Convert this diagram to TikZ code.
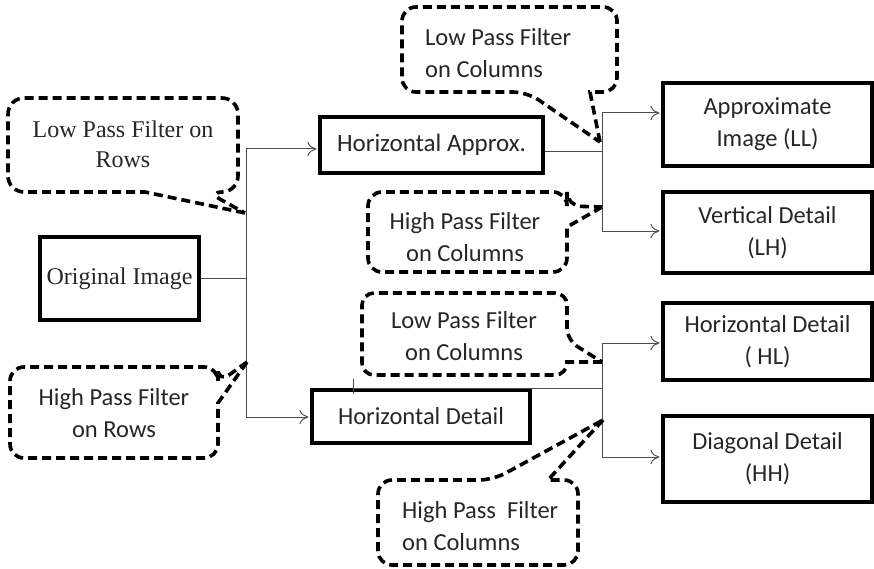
\documentclass[tikz,border=0pt]{standalone}
\usepackage{fontspec}
\setmainfont{Carlito}
\newfontfamily\romanfont{Liberation Serif}
\usetikzlibrary{arrows.meta}

\begin{document}
\begin{tikzpicture}[x=1pt,y=-1pt,
    box/.style={draw,line width=3.6pt,inner sep=0pt,align=center,text=black!85},
    note/.style={inner sep=0pt,text=black!85},
    callout/.style={line width=3.6pt,dash pattern=on 9pt off 5pt},
    wire/.style={black!70,line width=1pt},
    >={To[length=9pt,width=14pt]},
    font=\fontsize{24.5}{32}\selectfont]
    \useasboundingbox (0,0) rectangle (874,569);
    % boxes
    \node[box,minimum width=159pt,minimum height=83pt,font=\romanfont\fontsize{24}{30}\selectfont] (orig) at (119.5,278.5) {Original Image};
    \node[box,minimum width=223pt,minimum height=56pt,font=\fontsize{25}{32}\selectfont] (happ) at (431.5,145) {Horizontal Approx.};
    \node[box,minimum width=218pt,minimum height=53pt] (hdet) at (421,416.5) {Horizontal Detail};
    \node[box,minimum width=209pt,minimum height=83pt] (ll) at (767.5,124.5) {Approximate\\Image (LL)};
    \node[box,minimum width=209pt,minimum height=81pt] (lh) at (767.5,232.5) {Vertical Detail\\(LH)};
    \node[box,minimum width=209pt,minimum height=77pt] (hl) at (767.5,341.5) {Horizontal Detail\\( HL)};
    \node[box,minimum width=209pt,minimum height=86pt] (hh) at (767.5,459) {Diagonal Detail\\(HH)};
    % rows split
    \coordinate (j1) at (246,282);
    \coordinate (t1a) at (246,149);
    \coordinate (t1b) at (246,417);
    \draw[wire] (orig) -- (orig -| j1);
    \draw[wire] (t1a) -- (t1b);
    \draw[wire,->,shorten >=1.8pt] (t1a) -- (t1a -| happ.west);
    \draw[wire,->,shorten >=1.8pt] (t1b) -- (t1b -| hdet.west);
    % columns split, upper
    \coordinate (j2) at (602,152);
    \coordinate (t2a) at (602,113);
    \coordinate (t2b) at (602,231);
    \draw[wire] (happ.east |- j2) -- (j2);
    \draw[wire] (t2a) -- (t2b);
    \draw[wire,->,shorten >=1.8pt] (t2a) -- (t2a -| ll.west);
    \draw[wire,->,shorten >=1.8pt] (t2b) -- (t2b -| lh.west);
    % columns split, lower
    \coordinate (j3) at (602,388.5);
    \coordinate (tick) at (353,388.5);
    \coordinate (t3a) at (602,343);
    \coordinate (t3b) at (602,457);
    \draw[wire] (tick) -- (j3);
    \draw[wire] ([yshift=10pt]tick) -- ([yshift=-5pt]tick);
    \draw[wire] (t3a) -- (t3b);
    \draw[wire,->,shorten >=1.8pt] (t3a) -- (t3a -| hl.west);
    \draw[wire,->,shorten >=1.8pt] (t3b) -- (t3b -| hh.west);
    % callout tips
    \coordinate (tipA) at (245,213);
    \coordinate (tipB) at (247,362);
    \coordinate (tipC) at (600,142);
    \coordinate (tipD) at (602,207);
    \coordinate (tipE) at (602,362);
    \coordinate (tipF) at (603,420);
    % callouts
    \draw[callout] (tipA) -- (145,192) [rounded corners=16pt] -- (8,192) -- (8,98) -- (238,98) -- (238,192) -- (207,192) [sharp corners] -- (tipA);
    \draw[callout] (tipB) -- (218,403) [rounded corners=14pt] -- (218,458) -- (10,458) -- (10,367) -- (218,367) -- (218,383) [sharp corners] -- (tipB);
    \draw[callout] (tipC) -- (590,92) [rounded corners=14pt] -- (617,92) -- (617,7) -- (402,7) -- (402,92) -- (527,92) [sharp corners] -- (tipC);
    \draw[callout] (tipD) -- (567,227) [rounded corners=14pt] -- (567,272) -- (368,272) -- (368,192) -- (567,192) -- (567,206) [sharp corners] -- (tipD);
    \draw[callout] (tipE) -- (567,362) [rounded corners=12pt] -- (567,375) -- (362,375) -- (362,293) -- (567,293) -- (567,340) [sharp corners] -- (tipE);
    \draw[callout] (tipF) -- (548,480) [rounded corners=14pt] -- (578,480) -- (578,565) -- (378,565) -- (378,480) -- (493,480) [sharp corners] -- (tipF);
    % callout texts
    \node[note,align=center,font=\romanfont\fontsize{24}{30}\selectfont] (lprows) at (123,144) {Low Pass Filter on\\Rows};
    \node[note,align=center] (hprows) at (114,413) {High Pass Filter\\on Rows};
    \node[note,align=left,anchor=west] (lpcolsA) at (425,53) {Low Pass Filter\\on Columns};
    \node[note,align=center] (hpcolsA) at (465,237) {High Pass Filter\\on Columns};
    \node[note,align=center] (lpcolsB) at (464,336) {Low Pass Filter\\on Columns};
    \node[note,align=left,anchor=west] (hpcolsB) at (402,526) {High Pass\ \ Filter\\on Columns};
\end{tikzpicture}
\end{document}
